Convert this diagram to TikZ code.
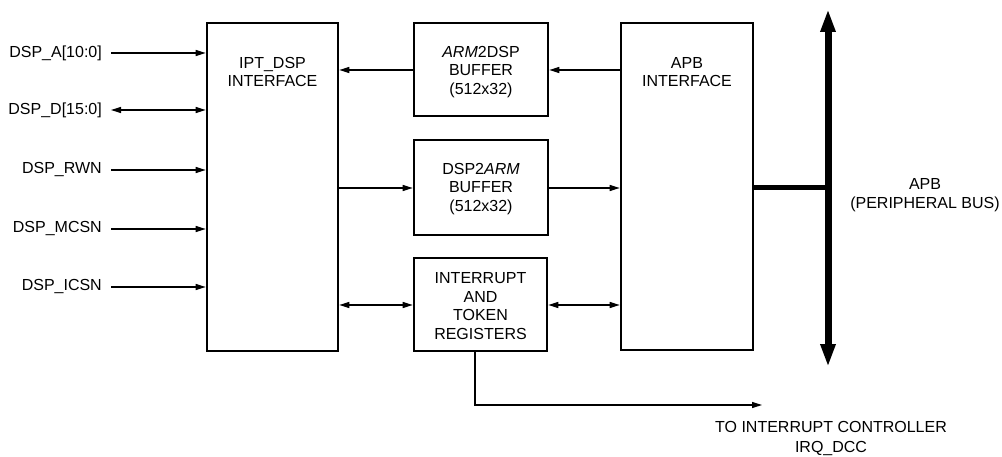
\documentclass[tikz,border=0pt]{standalone}
\usepackage{fontspec}
\setmainfont{Liberation Sans}
\usetikzlibrary{arrows.meta,calc}
\begin{document}
\begin{tikzpicture}[x=1pt,y=-1pt,
  blk/.style={draw,line width=2.6pt,inner sep=0pt},
  txt/.style={font=\fontsize{16}{18.8}\selectfont,align=center,inner sep=0pt},
  sig/.style={line width=1.3pt,-{Triangle[length=10pt,width=6pt]}},
  bsig/.style={line width=1.3pt,{Triangle[length=10pt,width=6pt]}-{Triangle[length=10pt,width=6pt]}},
  lab/.style={font=\fontsize{16}{18}\selectfont,anchor=east,inner sep=0pt}]
\useasboundingbox (0,0) rectangle (1002,457);
% boxes
\node[blk,minimum width=131pt,minimum height=328pt] (ipt) at (272.5,187) {};
\node[blk,minimum width=134pt,minimum height=93pt] (a2d) at (481,69.5) {};
\node[blk,minimum width=134pt,minimum height=95pt] (d2a) at (481,187.5) {};
\node[blk,minimum width=133pt,minimum height=93pt] (irq) at (480.5,304.5) {};
\node[blk,minimum width=132pt,minimum height=327pt] (apb) at (687,186.5) {};
% box texts
\node[txt] (iptt) at (272.5,72) {IPT\_DSP\\INTERFACE};
\node[txt] (a2dt) at (481,72) {\textit{ARM}2DSP\\BUFFER\\(512x32)};
\node[txt] (d2at) at (481,189) {DSP2\textit{ARM}\\BUFFER\\(512x32)};
\node[txt] (irqt) at (480.5,306) {INTERRUPT\\AND\\TOKEN\\REGISTERS};
\node[txt] (apbt) at (687,72) {APB\\INTERFACE};
% input labels
\node[lab] (l1) at (102,53) {DSP\_A[10:0]};
\node[lab] (l2) at (102,110) {DSP\_D[15:0]};
\node[lab] (l3) at (102,170) {DSP\_RWN};
\node[lab] (l4) at (102,229) {DSP\_MCSN};
\node[lab] (l5) at (102,287) {DSP\_ICSN};
\coordinate (s1) at (111,53);
\coordinate (s2) at (111,110);
\coordinate (s3) at (111,170);
\coordinate (s4) at (111,229);
\coordinate (s5) at (111,287);
\draw[sig] (s1) -- (s1 -| ipt.west);
\draw[bsig] (s2) -- (s2 -| ipt.west);
\draw[sig] (s3) -- (s3 -| ipt.west);
\draw[sig] (s4) -- (s4 -| ipt.west);
\draw[sig] (s5) -- (s5 -| ipt.west);
% internal connectors
\draw[sig] (a2d.west |- 0,70) -- (ipt.east |- 0,70);
\draw[sig] (apb.west |- 0,70) -- (a2d.east |- 0,70);
\draw[sig] (ipt.east |- 0,188) -- (d2a.west |- 0,188);
\draw[sig] (d2a.east |- 0,188) -- (apb.west |- 0,188);
\draw[bsig] (ipt.east |- 0,305) -- (irq.west |- 0,305);
\draw[bsig] (irq.east |- 0,305) -- (apb.west |- 0,305);
% bus
\coordinate (bt) at (828,9);
\coordinate (bb) at (828,367);
\draw[line width=7pt,{Triangle[length=23pt,width=14pt]}-{Triangle[length=23pt,width=14pt]}] (bt) -- (bb);
\draw[line width=5pt] (apb.east |- 0,188) -- (828,188);
\node[txt] (apbl) at (925,195) {APB\\(PERIPHERAL BUS)};
% irq output
\coordinate (irqend) at (762,405);
\draw[sig] (irq.south -| 475,0) |- (irqend);
\node[txt,font=\fontsize{16}{20}\selectfont] (irql) at (831,438.5) {TO INTERRUPT CONTROLLER\\IRQ\_DCC};
\end{tikzpicture}
\end{document}
